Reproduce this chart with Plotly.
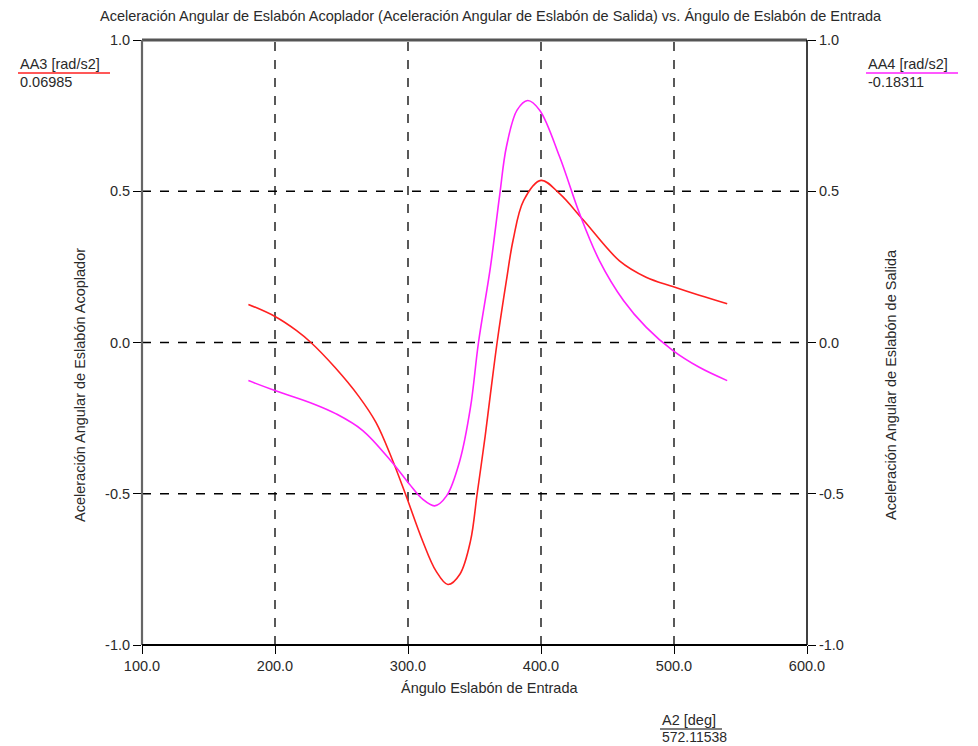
import plotly.graph_objects as go

# ---- data ----
aa3_x = [180, 200, 216, 227, 245, 263, 276, 288, 298, 311, 321, 330, 339, 347, 352, 358, 362, 367,
         374, 379, 387, 400, 414, 432, 459, 479, 499, 519, 540]
aa3_y = [0.126, 0.086, 0.04, 0.0, -0.082, -0.178, -0.265, -0.385, -0.50, -0.656, -0.755, -0.80, -0.766,
         -0.656, -0.50, -0.31, -0.17, 0.0, 0.205, 0.338, 0.47, 0.536, 0.492, 0.404, 0.27, 0.216, 0.185,
         0.156, 0.128]

aa4_x = [180, 200, 229, 246, 266, 288, 301, 311, 320, 329, 339, 347, 353, 362, 369, 374, 382, 390,
         399, 414, 429, 444, 462, 479, 499, 519, 540]
aa4_y = [-0.126, -0.159, -0.203, -0.236, -0.291, -0.396, -0.468, -0.518, -0.54, -0.507, -0.39, -0.214,
         0.0, 0.25, 0.49, 0.647, 0.768, 0.80, 0.768, 0.614, 0.426, 0.27, 0.139, 0.051, -0.026, -0.082,
         -0.126]

x_ticks = [100, 200, 300, 400, 500, 600]
x_tick_labels = ["100.0", "200.0", "300.0", "400.0", "500.0", "600.0"]
y_ticks = [-1.0, -0.5, 0.0, 0.5, 1.0]
y_tick_labels = ["-1.0", "-0.5", "0.0", "0.5", "1.0"]

title = "Aceleración Angular de Eslabón Acoplador (Aceleración Angular de Eslabón de Salida) vs. Ángulo de Eslabón de Entrada"
x_title = "Ángulo Eslabón de Entrada"
y1_title = "Aceleración Angular de Eslabón Acoplador"
y2_title = "Aceleración Angular de Eslabón de Salida"
aa3_name, aa3_val = "AA3 [rad/s2]", "0.06985"
aa4_name, aa4_val = "AA4 [rad/s2]", "-0.18311"
a2_name, a2_val = "A2 [deg]", "572.11538"

W, H = 978, 746
L, R, T, B = 142, 807, 40, 645
FONT = "Liberation Sans, Arial, sans-serif"
TXT = "#2a2a2a"
FS = 14.5


def px(xp):
    return (xp - L) / (R - L)


def py(yp):
    return (B - yp) / (B - T)


fig = go.Figure()
fig.add_trace(go.Scatter(x=aa3_x, y=aa3_y, mode="lines", line=dict(color="#ff2020", width=1.6, shape="spline"),
                         name=aa3_name, showlegend=False))
fig.add_trace(go.Scatter(x=aa4_x, y=aa4_y, mode="lines", line=dict(color="#ff20ff", width=1.6, shape="spline"),
                         name=aa4_name, showlegend=False, yaxis="y2"))

axis_common = dict(showgrid=False, zeroline=False, ticks="outside", ticklen=8, tickcolor="black",
                   tickfont=dict(family=FONT, size=FS, color=TXT), showline=False)

fig.update_layout(
    width=W, height=H,
    margin=dict(l=L, r=W - R, t=T, b=H - B, pad=0),
    paper_bgcolor="white", plot_bgcolor="white",
    font=dict(family=FONT, size=FS, color=TXT),
    xaxis=dict(range=[100, 600], tickvals=x_ticks, ticktext=x_tick_labels, **axis_common),
    yaxis=dict(range=[-1, 1], tickvals=y_ticks, ticktext=y_tick_labels, **axis_common),
    yaxis2=dict(range=[-1, 1], tickvals=y_ticks, ticktext=y_tick_labels, overlaying="y", side="right",
                **axis_common),
)

shapes = []
# dashed grid
for v in [200, 300, 400, 500]:
    shapes.append(dict(type="line", xref="x", yref="paper", x0=v, x1=v, y0=0, y1=1,
                       line=dict(color="black", width=1.3, dash="dash"), layer="below"))
for v in [-0.5, 0.0, 0.5]:
    shapes.append(dict(type="line", xref="paper", yref="y", x0=0, x1=1, y0=v, y1=v,
                       line=dict(color="black", width=1.3, dash="dash"), layer="below"))
# frame
shapes.append(dict(type="line", xref="paper", yref="paper", x0=0, x1=1, y0=1, y1=1,
                   line=dict(color="#555555", width=3)))
shapes.append(dict(type="line", xref="paper", yref="paper", x0=0, x1=0, y0=0, y1=1,
                   line=dict(color="#666666", width=2.2)))
shapes.append(dict(type="line", xref="paper", yref="paper", x0=1, x1=1, y0=0, y1=1,
                   line=dict(color="black", width=1.5)))
shapes.append(dict(type="line", xref="paper", yref="paper", x0=0, x1=1, y0=0, y1=0,
                   line=dict(color="black", width=2)))
# legend underlines
shapes.append(dict(type="line", xref="paper", yref="paper", x0=px(18), x1=px(110), y0=py(73), y1=py(73),
                   line=dict(color="#ff2020", width=1.5)))
shapes.append(dict(type="line", xref="paper", yref="paper", x0=px(866), x1=px(958), y0=py(73), y1=py(73),
                   line=dict(color="#ff20ff", width=1.5)))
shapes.append(dict(type="line", xref="paper", yref="paper", x0=px(660), x1=px(722), y0=py(729), y1=py(729),
                   line=dict(color="black", width=1.2)))
fig.update_layout(shapes=shapes)

ann = []


def text(x, y, s, xanchor="left", angle=0, size=FS):
    ann.append(dict(x=px(x), y=py(y), xref="paper", yref="paper", text=s, showarrow=False,
                    xanchor=xanchor, yanchor="middle", textangle=angle,
                    font=dict(family=FONT, size=size, color=TXT)))


text(491, 16, title, xanchor="center")
text(489, 688, x_title, xanchor="center")
text(80, 385, y1_title, xanchor="center", angle=-90)
text(891, 385, y2_title, xanchor="center", angle=-90)
text(18, 64, aa3_name)
text(18, 82, aa3_val)
text(866, 64, aa4_name)
text(866, 82, aa4_val)
text(660, 720, a2_name)
text(660, 737, a2_val, size=14)
fig.update_layout(annotations=ann)

fig.write_html("out.html")
